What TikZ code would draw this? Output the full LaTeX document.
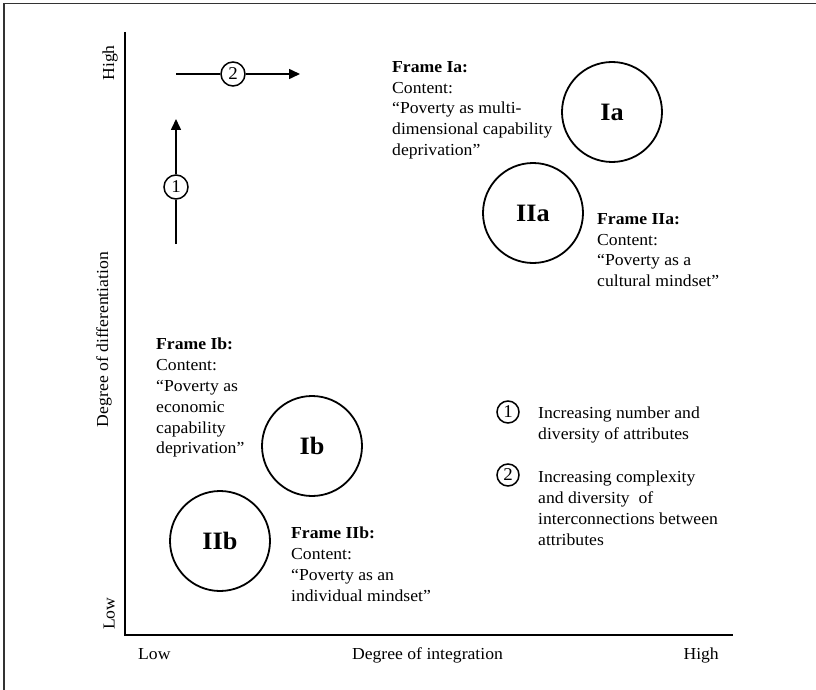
\documentclass[tikz,border=0pt]{standalone}
\usepackage{fontspec}
\setmainfont{Liberation Serif}[FakeStretch=1.05]
\usetikzlibrary{arrows.meta}
\begin{document}
\begin{tikzpicture}[x=1pt,y=-1pt,
  txt/.style={font=\fontsize{16.8}{20.8}\selectfont, inner sep=0pt},
  frametxt/.style={txt, align=left, anchor=north west},
  bigcircle/.style={circle, draw, line width=1.8pt, minimum size=100pt, inner sep=0pt,
    font=\fontsize{25}{30}\selectfont\bfseries},
  numcircle/.style={circle, draw, line width=1.5pt, minimum size=24pt, inner sep=0pt,
    fill=white, font=\fontsize{18}{20}\selectfont},
  keycircle/.style={numcircle, minimum size=22pt},
  axis/.style={line width=2.4pt},
  trend/.style={line width=1.6pt},
  tip/.style={-{Triangle[length=11pt,width=10pt]}}
]
\useasboundingbox (0,0) rectangle (816,690);

% page frame (top and left edges)
\coordinate (fbl) at (4,690);
\coordinate (ftl) at (4,3.5);
\coordinate (ftr) at (816,3.5);
\draw[line width=1.5pt, black!80] (fbl) -- (ftl) -- (ftr);

% axes
\coordinate (ytop) at (125,32);
\coordinate (origin) at (125,635);
\coordinate (xend) at (733,635);
\draw[axis] (ytop) -- (origin) -- (xend);

% axis labels
\node[txt, anchor=base west] (xlow) at (138,659) {Low};
\node[txt, anchor=base] (xlab) at (427.5,659) {Degree of integration};
\node[txt, anchor=base east] (xhigh) at (719,659) {High};
\node[txt, rotate=90, anchor=base west] (ylow) at (114.5,630) {Low};
\node[txt, rotate=90, anchor=base] (ylab) at (108,339.5) {Degree of differentiation};
\node[txt, rotate=90, anchor=base east] (yhigh) at (114,45) {High};

% trend arrows
\coordinate (a1s) at (176,244);
\coordinate (a1e) at (176,119);
\node[numcircle] (n1) at (176,187) {1};
\draw[trend] (a1s) -- (n1);
\draw[trend, tip] (n1) -- (a1e);

\coordinate (a2s) at (176,74);
\coordinate (a2e) at (300,74);
\node[numcircle] (n2) at (233,74) {2};
\draw[trend] (a2s) -- (n2);
\draw[trend, tip] (n2) -- (a2e);

% frames
\node[bigcircle] (Ia) at (612,112) {Ia};
\node[bigcircle] (IIa) at (533,213) {IIa};
\node[bigcircle] (Ib) at (312,446) {Ib};
\node[bigcircle] (IIb) at (220,541) {IIb};

\node[frametxt] (tIa) at (392,61)
  {\textbf{Frame Ia:}\\Content:\\“Poverty as multi-\\dimensional capability\\deprivation”};
\node[frametxt] (tIIa) at (597,213)
  {\textbf{Frame IIa:}\\Content:\\“Poverty as a\\cultural mindset”};
\node[frametxt] (tIb) at (156,338)
  {\textbf{Frame Ib:}\\Content:\\“Poverty as\\economic\\capability\\deprivation”};
\node[frametxt] (tIIb) at (291,527)
  {\textbf{Frame IIb:}\\Content:\\“Poverty as an\\individual mindset”};

% key
\node[keycircle] (k1) at (508,412) {1};
\node[frametxt] (k1t) at (538,407) {Increasing number and\\diversity of attributes};
\node[keycircle] (k2) at (508,475) {2};
\node[frametxt] (k2t) at (538,471)
  {Increasing complexity\\and diversity~ of\\interconnections between\\attributes};
\end{tikzpicture}
\end{document}
